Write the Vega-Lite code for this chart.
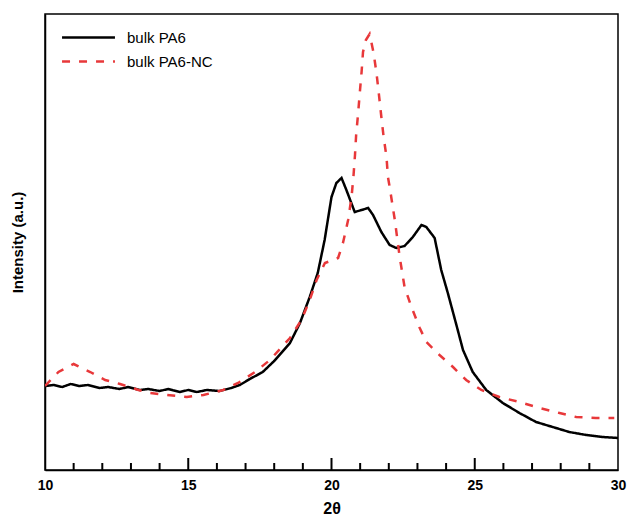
{
  "$schema": "https://vega.github.io/schema/vega-lite/v6.json",
  "width": 573,
  "height": 456,
  "padding": {"left": 10, "top": 14, "right": 10, "bottom": 5},
  "config": {
    "font": "Liberation Sans",
    "view": {"stroke": "black", "strokeWidth": 1.5}
  },
  "datasets": {
    "curves": [
      {"x": 10.0, "y": 84, "s": "bulk PA6"},
      {"x": 10.3, "y": 85, "s": "bulk PA6"},
      {"x": 10.6, "y": 83, "s": "bulk PA6"},
      {"x": 10.9, "y": 86, "s": "bulk PA6"},
      {"x": 11.2, "y": 84, "s": "bulk PA6"},
      {"x": 11.5, "y": 85, "s": "bulk PA6"},
      {"x": 11.9, "y": 82, "s": "bulk PA6"},
      {"x": 12.2, "y": 83, "s": "bulk PA6"},
      {"x": 12.6, "y": 81, "s": "bulk PA6"},
      {"x": 12.9, "y": 83, "s": "bulk PA6"},
      {"x": 13.3, "y": 80, "s": "bulk PA6"},
      {"x": 13.6, "y": 81, "s": "bulk PA6"},
      {"x": 14.0, "y": 79, "s": "bulk PA6"},
      {"x": 14.3, "y": 81, "s": "bulk PA6"},
      {"x": 14.7, "y": 78, "s": "bulk PA6"},
      {"x": 15.0, "y": 80, "s": "bulk PA6"},
      {"x": 15.3, "y": 78, "s": "bulk PA6"},
      {"x": 15.65, "y": 80, "s": "bulk PA6"},
      {"x": 16.1, "y": 79, "s": "bulk PA6"},
      {"x": 16.5, "y": 82, "s": "bulk PA6"},
      {"x": 16.8, "y": 85, "s": "bulk PA6"},
      {"x": 17.15, "y": 91, "s": "bulk PA6"},
      {"x": 17.6, "y": 98, "s": "bulk PA6"},
      {"x": 18.0, "y": 109, "s": "bulk PA6"},
      {"x": 18.55, "y": 127, "s": "bulk PA6"},
      {"x": 18.9, "y": 147, "s": "bulk PA6"},
      {"x": 19.24, "y": 173, "s": "bulk PA6"},
      {"x": 19.52, "y": 197, "s": "bulk PA6"},
      {"x": 19.76, "y": 230, "s": "bulk PA6"},
      {"x": 20.0, "y": 273, "s": "bulk PA6"},
      {"x": 20.17, "y": 287, "s": "bulk PA6"},
      {"x": 20.35, "y": 292, "s": "bulk PA6"},
      {"x": 20.52, "y": 280, "s": "bulk PA6"},
      {"x": 20.81, "y": 258, "s": "bulk PA6"},
      {"x": 21.05, "y": 260, "s": "bulk PA6"},
      {"x": 21.28, "y": 262, "s": "bulk PA6"},
      {"x": 21.45, "y": 255, "s": "bulk PA6"},
      {"x": 21.74, "y": 238, "s": "bulk PA6"},
      {"x": 22.03, "y": 225, "s": "bulk PA6"},
      {"x": 22.26, "y": 222, "s": "bulk PA6"},
      {"x": 22.55, "y": 224, "s": "bulk PA6"},
      {"x": 22.84, "y": 233, "s": "bulk PA6"},
      {"x": 23.14, "y": 245, "s": "bulk PA6"},
      {"x": 23.31, "y": 243, "s": "bulk PA6"},
      {"x": 23.6, "y": 232, "s": "bulk PA6"},
      {"x": 23.83, "y": 200, "s": "bulk PA6"},
      {"x": 24.06, "y": 177, "s": "bulk PA6"},
      {"x": 24.36, "y": 145, "s": "bulk PA6"},
      {"x": 24.59, "y": 120, "s": "bulk PA6"},
      {"x": 24.93, "y": 98, "s": "bulk PA6"},
      {"x": 25.4, "y": 80, "s": "bulk PA6"},
      {"x": 25.98, "y": 67, "s": "bulk PA6"},
      {"x": 26.56, "y": 57, "s": "bulk PA6"},
      {"x": 27.14, "y": 48, "s": "bulk PA6"},
      {"x": 27.72, "y": 43, "s": "bulk PA6"},
      {"x": 28.3, "y": 38, "s": "bulk PA6"},
      {"x": 28.89, "y": 35, "s": "bulk PA6"},
      {"x": 29.46, "y": 33, "s": "bulk PA6"},
      {"x": 30.0, "y": 32, "s": "bulk PA6"},
      {"x": 10.0, "y": 84, "s": "bulk PA6-NC"},
      {"x": 10.47, "y": 98, "s": "bulk PA6-NC"},
      {"x": 11.0, "y": 106, "s": "bulk PA6-NC"},
      {"x": 11.58, "y": 98, "s": "bulk PA6-NC"},
      {"x": 12.1, "y": 90, "s": "bulk PA6-NC"},
      {"x": 12.62, "y": 86, "s": "bulk PA6-NC"},
      {"x": 13.26, "y": 80, "s": "bulk PA6-NC"},
      {"x": 13.67, "y": 77, "s": "bulk PA6-NC"},
      {"x": 14.25, "y": 75, "s": "bulk PA6-NC"},
      {"x": 14.95, "y": 73, "s": "bulk PA6-NC"},
      {"x": 15.53, "y": 75, "s": "bulk PA6-NC"},
      {"x": 16.22, "y": 80, "s": "bulk PA6-NC"},
      {"x": 16.74, "y": 87, "s": "bulk PA6-NC"},
      {"x": 17.33, "y": 98, "s": "bulk PA6-NC"},
      {"x": 17.85, "y": 110, "s": "bulk PA6-NC"},
      {"x": 18.55, "y": 132, "s": "bulk PA6-NC"},
      {"x": 18.95, "y": 150, "s": "bulk PA6-NC"},
      {"x": 19.24, "y": 170, "s": "bulk PA6-NC"},
      {"x": 19.48, "y": 190, "s": "bulk PA6-NC"},
      {"x": 19.77, "y": 207, "s": "bulk PA6-NC"},
      {"x": 20.23, "y": 212, "s": "bulk PA6-NC"},
      {"x": 20.4, "y": 227, "s": "bulk PA6-NC"},
      {"x": 20.58, "y": 250, "s": "bulk PA6-NC"},
      {"x": 20.7, "y": 273, "s": "bulk PA6-NC"},
      {"x": 20.77, "y": 295, "s": "bulk PA6-NC"},
      {"x": 20.82, "y": 315, "s": "bulk PA6-NC"},
      {"x": 20.86, "y": 335, "s": "bulk PA6-NC"},
      {"x": 20.93, "y": 357, "s": "bulk PA6-NC"},
      {"x": 20.99, "y": 378, "s": "bulk PA6-NC"},
      {"x": 21.05, "y": 398, "s": "bulk PA6-NC"},
      {"x": 21.1, "y": 418, "s": "bulk PA6-NC"},
      {"x": 21.2, "y": 430, "s": "bulk PA6-NC"},
      {"x": 21.33, "y": 436, "s": "bulk PA6-NC"},
      {"x": 21.47, "y": 417, "s": "bulk PA6-NC"},
      {"x": 21.57, "y": 397, "s": "bulk PA6-NC"},
      {"x": 21.65, "y": 377, "s": "bulk PA6-NC"},
      {"x": 21.74, "y": 353, "s": "bulk PA6-NC"},
      {"x": 21.82, "y": 333, "s": "bulk PA6-NC"},
      {"x": 21.92, "y": 313, "s": "bulk PA6-NC"},
      {"x": 21.97, "y": 293, "s": "bulk PA6-NC"},
      {"x": 22.03, "y": 283, "s": "bulk PA6-NC"},
      {"x": 22.21, "y": 250, "s": "bulk PA6-NC"},
      {"x": 22.38, "y": 213, "s": "bulk PA6-NC"},
      {"x": 22.55, "y": 183, "s": "bulk PA6-NC"},
      {"x": 22.79, "y": 163, "s": "bulk PA6-NC"},
      {"x": 23.08, "y": 142, "s": "bulk PA6-NC"},
      {"x": 23.31, "y": 128, "s": "bulk PA6-NC"},
      {"x": 23.77, "y": 115, "s": "bulk PA6-NC"},
      {"x": 24.24, "y": 103, "s": "bulk PA6-NC"},
      {"x": 24.7, "y": 90, "s": "bulk PA6-NC"},
      {"x": 25.23, "y": 80, "s": "bulk PA6-NC"},
      {"x": 25.86, "y": 73, "s": "bulk PA6-NC"},
      {"x": 26.56, "y": 68, "s": "bulk PA6-NC"},
      {"x": 27.26, "y": 62, "s": "bulk PA6-NC"},
      {"x": 27.96, "y": 57, "s": "bulk PA6-NC"},
      {"x": 28.54, "y": 53, "s": "bulk PA6-NC"},
      {"x": 29.23, "y": 52, "s": "bulk PA6-NC"},
      {"x": 29.87, "y": 52, "s": "bulk PA6-NC"}
    ],
    "minorticks": [
      {"t": 11}, {"t": 12}, {"t": 13}, {"t": 14}, {"t": 16}, {"t": 17}, {"t": 18}, {"t": 19},
      {"t": 21}, {"t": 22}, {"t": 23}, {"t": 24}, {"t": 26}, {"t": 27}, {"t": 28}, {"t": 29}
    ],
    "majorticks": [{"t": 15}, {"t": 20}, {"t": 25}]
  },
  "layer": [
    {
      "data": {"name": "curves"},
      "mark": {"type": "line", "strokeWidth": 2.5, "clip": true},
      "encoding": {
        "x": {
          "field": "x",
          "type": "quantitative",
          "scale": {"domain": [10, 30], "nice": false, "zero": false},
          "axis": {
            "title": "2θ",
            "titleFontSize": 16,
            "titleFontWeight": "bold",
            "titleColor": "black",
            "titlePadding": 8,
            "values": [10, 15, 20, 25, 30],
            "labelFontSize": 14,
            "labelFontWeight": "bold",
            "labelColor": "black",
            "labelPadding": 8,
            "labelFlush": false,
            "labelOverlap": false,
            "grid": false,
            "domainColor": "black",
            "domainWidth": 1.5,
            "ticks": false
          }
        },
        "y": {
          "field": "y",
          "type": "quantitative",
          "scale": {"domain": [0, 456], "nice": false, "zero": false},
          "axis": {
            "title": "Intensity (a.u.)",
            "titleFontSize": 15,
            "titleFontWeight": "bold",
            "titleColor": "black",
            "titlePadding": 20,
            "labels": false,
            "ticks": false,
            "grid": false,
            "domainColor": "black",
            "domainWidth": 1.5
          }
        },
        "color": {
          "field": "s",
          "type": "nominal",
          "scale": {"domain": ["bulk PA6", "bulk PA6-NC"], "range": ["black", "#e8383a"]},
          "legend": {
            "title": null,
            "orient": "none",
            "legendX": 36,
            "legendY": 16,
            "padding": 0,
            "symbolType": "M-5,0H5",
            "symbolSize": 112,
            "symbolStrokeWidth": 2.5,
            "labelFontSize": 15,
            "labelColor": "black",
            "labelOffset": 31,
            "rowPadding": 8
          }
        },
        "strokeDash": {
          "field": "s",
          "type": "nominal",
          "scale": {"domain": ["bulk PA6", "bulk PA6-NC"], "range": [[1, 0], [8, 9]]},
          "legend": {
            "title": null,
            "orient": "none",
            "legendX": 36,
            "legendY": 16,
            "padding": 0,
            "symbolType": "M-5,0H5",
            "symbolSize": 112,
            "symbolStrokeWidth": 2.5,
            "labelFontSize": 15,
            "labelColor": "black",
            "labelOffset": 31,
            "rowPadding": 8
          }
        }
      }
    },
    {
      "data": {"name": "minorticks"},
      "mark": {"type": "rule", "strokeWidth": 2, "color": "black"},
      "encoding": {
        "x": {"field": "t", "type": "quantitative"},
        "y": {"datum": 0},
        "y2": {"datum": 7}
      }
    },
    {
      "data": {"name": "majorticks"},
      "mark": {"type": "rule", "strokeWidth": 2, "color": "black"},
      "encoding": {
        "x": {"field": "t", "type": "quantitative"},
        "y": {"datum": 0},
        "y2": {"datum": 12}
      }
    }
  ]
}
